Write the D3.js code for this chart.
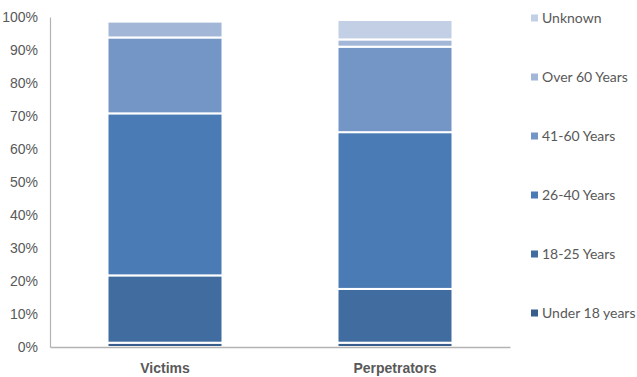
<!DOCTYPE html>
<html>
<head>
<meta charset="utf-8">
<script src="https://cdn.jsdelivr.net/npm/d3@7"></script>
<style>
  html, body { margin: 0; padding: 0; background: #ffffff; }
  svg { display: block; font-family: "Lato", "Open Sans", sans-serif; }
</style>
</head>
<body>
<svg id="chart" width="637" height="377"></svg>
<script>
// Age breakdown (% of total) for victims and perpetrators
const groups = ["Victims", "Perpetrators"];
const ageBands = ["Under 18 years", "18-25 Years", "26-40 Years", "41-60 Years", "Over 60 Years", "Unknown"];
const victims = [1.3, 20.4, 49.1, 23.0, 4.8, 0];
const perpetrators = [1.3, 16.3, 47.5, 25.9, 2.2, 5.9];
const yTicks = [0, 10, 20, 30, 40, 50, 60, 70, 80, 90, 100];
const bandColors = ["#3a5e8c", "#416ca0", "#4a7bb4", "#7396c7", "#a2b6d8", "#c3cfe4"];

const series = { "Victims": victims, "Perpetrators": perpetrators };
const rows = groups.map(g => {
  const r = { group: g };
  ageBands.forEach((b, i) => { r[b] = series[g][i]; });
  return r;
});

const svg = d3.select("#chart");
const margin = { left: 50, right: 127, top: 17, bottom: 30 };
const W = 637, H = 377;

const x = d3.scaleBand().domain(groups)
  .range([margin.left, W - margin.right]).paddingInner(0.5).paddingOuter(0.25);
const y = d3.scaleLinear().domain([0, 100]).range([H - margin.bottom, margin.top]);

const stack = d3.stack().keys(ageBands)(rows);
const color = d3.scaleOrdinal().domain(ageBands).range(bandColors);

// Stacked segments, separated by thin white borders
svg.append("g").selectAll("g").data(stack).join("g")
  .attr("fill", d => color(d.key))
  .selectAll("rect").data(d => d.filter(s => s[1] - s[0] > 0)).join("rect")
  .attr("x", d => x(d.data.group))
  .attr("width", x.bandwidth())
  .attr("y", d => y(d[1]))
  .attr("height", d => y(d[0]) - y(d[1]))
  .attr("stroke", "#ffffff")
  .attr("stroke-width", 2);

// Y axis
const yAxis = svg.append("g")
  .attr("transform", `translate(${margin.left},0)`)
  .call(d3.axisLeft(y).tickValues(yTicks).tickFormat(d => d + "%").tickSize(0).tickPadding(12));
yAxis.select(".domain").attr("stroke", "#b3b3b3").attr("stroke-width", 1.2);
yAxis.selectAll("text").attr("fill", "#595959").attr("font-size", 14);

// X axis
const xAxis = svg.append("g")
  .attr("transform", `translate(0,${y(0)})`)
  .call(d3.axisBottom(x).tickSize(0).tickPadding(16));
xAxis.select(".domain").attr("stroke", "#b3b3b3").attr("stroke-width", 1.5);
xAxis.selectAll("text").attr("fill", "#595959").attr("font-size", 14).attr("font-weight", "bold");

// Legend (top entry is the last stacked band)
const legend = svg.append("g").attr("transform", "translate(531,0)");
const legendItems = ageBands.slice().reverse();
const ly = d3.scalePoint().domain(legendItems).range([18, 313]);
const item = legend.selectAll("g").data(legendItems).join("g")
  .attr("transform", d => `translate(0,${ly(d)})`);
item.append("rect")
  .attr("x", 0).attr("y", -3.5).attr("width", 7).attr("height", 7)
  .attr("fill", d => color(d));
item.append("text")
  .attr("x", 11).attr("dy", "0.35em")
  .attr("fill", "#595959").attr("font-size", 14)
  .text(d => d);
</script>
</body>
</html>
